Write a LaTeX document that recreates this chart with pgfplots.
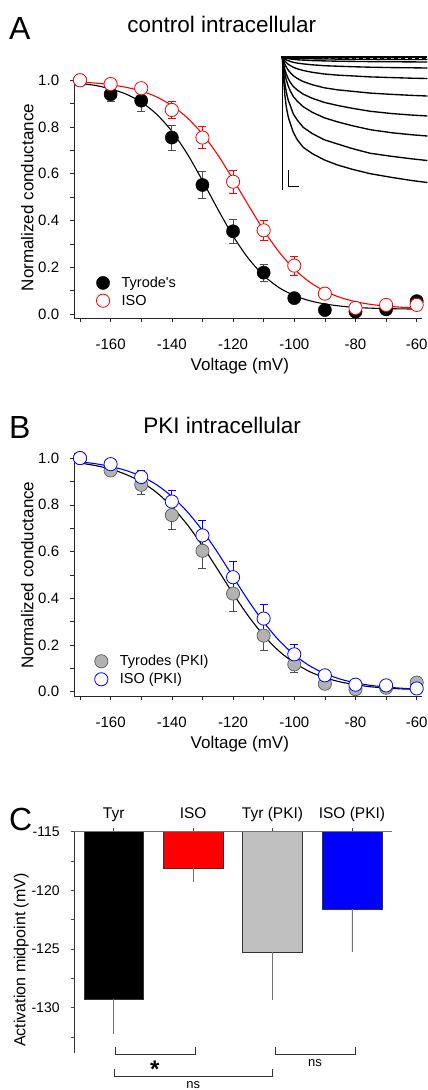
\documentclass[border=0pt]{standalone}
\usepackage{fontspec}
\setmainfont{Liberation Sans}
\usepackage{pgfplots}
\pgfplotsset{compat=1.18}

\definecolor{isored}{RGB}{255,0,0}
\definecolor{isoblue}{RGB}{0,0,255}
\definecolor{pkigray}{RGB}{178,178,178}
\definecolor{bargray}{RGB}{192,192,192}

\pgfplotsset{
  gcurve/.style={
    scale only axis, width=347.7pt,
    xmin=-171.96, xmax=-58.37,
    axis x line*=bottom, axis y line*=left,
    axis line style={black!85, line width=0.8pt},
    tick align=outside, major tick length=4pt, minor tick length=4pt,
    tick style={black!85, line width=0.6pt},
    xtick={-160,-140,-120,-100,-80,-60}, minor xtick={-170,-150,-130,-110,-90,-70},
    ytick={0,0.2,0.4,0.6,0.8,1.0}, minor ytick={0.1,0.3,0.5,0.7,0.9},
    /pgf/number format/assume math mode=true,
    tick label style={font=\fontsize{15}{18}\selectfont, inner sep=0pt},
    xticklabel style={anchor=base, yshift=-27pt},
    yticklabel style={anchor=east, xshift=-10.7pt, /pgf/number format/.cd, fixed, fixed zerofill, precision=1},
    label style={font=\fontsize{17}{20}\selectfont},
    xlabel={Voltage (mV)}, ylabel={Normalized conductance},
    xlabel style={at={(axis description cs:0.477,0)}, anchor=base, yshift=-52pt},
    clip=false,
    legend cell align=left,
    legend image code/.code={\draw[#1,mark repeat=2,mark phase=2] plot coordinates {(-8pt,0pt)(0pt,0pt)(8pt,0pt)};},
  },
  fit/.style={forget plot, smooth, line width=1.1pt, no marks},
  ebar/.style={forget plot, only marks, mark=none,
    error bars/.cd, y dir=both, y explicit,
    error bar style={line width=0.7pt, #1},
    error mark options={rotate=90, mark size=4pt, line width=0.7pt, #1}},
  pts/.style={only marks, mark=*, mark size=6.6pt},
  trace/.style={black, line width=1.35pt},
}

\begin{document}
\begin{tikzpicture}
\path[use as bounding box] (0,0) rectangle (428pt,-1090pt);

% ---------- A: control intracellular
\begin{axis}[gcurve, at={(74pt,-318pt)}, anchor=south west,
  height=242.4pt, ymin=-0.0171, ymax=1.02,
  ylabel style={at={(axis description cs:-0.1171,0.497)}, anchor=base},
  legend style={at={(axis description cs:0.064,0.1786)}, anchor=north west,
    draw=none, fill=none, inner sep=0pt, row sep=2pt,
    font=\fontsize{14.5}{17}\selectfont,
    /tikz/every odd column/.append style={column sep=10pt}}]
\addplot[fit, black] coordinates {(-170,0.986)(-165,0.978)(-160,0.963)(-155,0.941)(-150,0.907)(-145,0.855)(-140,0.782)(-135,0.686)(-130,0.571)(-125,0.449)(-120,0.334)(-115,0.238)(-110,0.165)(-105,0.113)(-100,0.079)(-95,0.057)(-90,0.043)(-85,0.034)(-80,0.028)(-75,0.025)(-70,0.023)(-65,0.022)(-60,0.021)};
\addplot[fit, isored] coordinates {(-170,0.992)(-165,0.988)(-160,0.981)(-155,0.970)(-150,0.954)(-145,0.929)(-140,0.892)(-135,0.840)(-130,0.770)(-125,0.681)(-120,0.576)(-115,0.466)(-110,0.359)(-105,0.266)(-100,0.192)(-95,0.137)(-90,0.098)(-85,0.071)(-80,0.053)(-75,0.041)(-70,0.034)(-65,0.029)(-60,0.026)};
\addplot[ebar=black!70] coordinates {(-160,0.94) +- (0,0.03) (-150,0.913) +- (0,0.045) (-140,0.755) +- (0,0.053) (-130,0.552) +- (0,0.058) (-120,0.354) +- (0,0.05) (-110,0.177) +- (0,0.036)};
\addplot[pts, fill=black, draw=black] coordinates {(-170,1.0)(-160,0.94)(-150,0.913)(-140,0.755)(-130,0.552)(-120,0.354)(-110,0.177)(-100,0.068)(-90,0.017)(-80,0.01)(-70,0.02)(-60,0.055)};
\addlegendentry{Tyrode\textquotesingle s}
\addplot[ebar=isored] coordinates {(-140,0.873) +- (0,0.036) (-130,0.755) +- (0,0.047) (-120,0.566) +- (0,0.05) (-110,0.358) +- (0,0.044) (-100,0.207) +- (0,0.04)};
\addplot[pts, fill=white, draw=isored, line width=0.8pt] coordinates {(-170,1.0)(-160,0.984)(-150,0.966)(-140,0.873)(-130,0.755)(-120,0.566)(-110,0.358)(-100,0.207)(-90,0.087)(-80,0.026)(-70,0.039)(-60,0.039)};
\addlegendentry{ISO}
\end{axis}

% ---------- A inset: current traces
\begin{axis}[at={(282.3pt,-57pt)}, anchor=north west, scale only axis,
  width=145pt, height=133pt, xmin=0, xmax=145, ymin=-133, ymax=0,
  hide axis, clip=false]
\addplot[trace] coordinates {(0,0)(1,-18.8)(2.5,-37.7)(4,-50.2)(6,-60.2)(8,-66.5)(11,-75.3)(15,-82.8)(21,-90.4)(30,-96.6)(42,-102.9)(55,-107.9)(70,-112.3)(88,-116.7)(110,-120.5)(130,-123.6)(145,-125.5)};
\addplot[trace] coordinates {(0,0)(1,-12.4)(2.5,-25.9)(4,-35.2)(6,-43.5)(8,-48.6)(11,-56.9)(15,-63.1)(21,-70.4)(30,-76.6)(42,-82.8)(55,-86.9)(70,-91.6)(88,-96.3)(110,-99.4)(130,-101.9)(145,-103.5)};
\addplot[trace] coordinates {(0,0)(1,-7.9)(2.5,-16.6)(4,-22.9)(6,-29.2)(8,-34.0)(11,-39.5)(15,-44.2)(21,-49.8)(30,-55.3)(42,-60.8)(55,-64.8)(70,-68.7)(88,-72.7)(110,-75.8)(130,-77.8)(145,-79)};
\addplot[trace] coordinates {(0,0)(1,-5.9)(2.5,-12.4)(4,-17.1)(6,-21.8)(8,-25.4)(11,-29.5)(15,-33.0)(21,-37.2)(30,-41.3)(42,-45.4)(55,-48.4)(70,-51.3)(88,-54.3)(110,-56.6)(130,-58.1)(145,-59)};
\addplot[trace] coordinates {(0,0)(1,-3.1)(2.5,-7.0)(4,-10.1)(6,-13.3)(8,-15.6)(11,-18.7)(15,-21.5)(21,-24.6)(30,-27.7)(42,-30.8)(55,-32.8)(70,-34.3)(88,-36.1)(110,-37.4)(130,-38.4)(145,-39)};
\addplot[trace] coordinates {(0,0)(1,-1.7)(2.5,-3.9)(4,-5.6)(6,-7.3)(8,-8.6)(11,-10.3)(15,-11.8)(21,-13.5)(30,-15.3)(42,-17.0)(55,-18.1)(70,-18.9)(88,-19.9)(110,-20.6)(130,-21.2)(145,-21.5)};
\addplot[trace] coordinates {(0,0)(1,-0.9)(2.5,-2.0)(4,-2.9)(6,-3.7)(8,-4.4)(11,-5.3)(15,-6.1)(21,-6.9)(30,-7.8)(42,-8.7)(55,-9.2)(70,-9.7)(88,-10.2)(110,-10.6)(130,-10.8)(145,-11)};
\addplot[trace] coordinates {(0,0)(4,-1.3)(8,-2.0)(15,-2.8)(30,-3.6)(55,-4.2)(88,-4.6)(145,-5)};
\addplot[trace] coordinates {(0,0)(4,-0.7)(8,-1.0)(15,-1.4)(30,-1.8)(55,-2.1)(88,-2.3)(145,-2.5)};
\addplot[black, line width=1.6pt] coordinates {(-1.5,0.3)(145,0.3)};
\addplot[black, line width=1.2pt, dash pattern=on 4pt off 3pt] coordinates {(0,-1)(145,-1)};
\addplot[black, line width=1.1pt] coordinates {(0,0)(0,-133)};
\addplot[black, line width=1.1pt] coordinates {(6,-113)(6,-129.7)(17,-129.7)};
\end{axis}

% ---------- B: PKI intracellular
\begin{axis}[gcurve, at={(74pt,-696pt)}, anchor=south west,
  height=242.6pt, ymin=-0.0184, ymax=1.02,
  ylabel style={at={(axis description cs:-0.1171,0.4986)}, anchor=base},
  legend style={at={(axis description cs:0.059,0.177)}, anchor=north west,
    draw=none, fill=none, inner sep=0pt, row sep=2pt,
    font=\fontsize{14.5}{17}\selectfont,
    /tikz/every odd column/.append style={column sep=10pt}}]
\addplot[fit, black] coordinates {(-170,0.979)(-165,0.968)(-160,0.953)(-155,0.930)(-150,0.898)(-145,0.853)(-140,0.792)(-135,0.716)(-130,0.624)(-125,0.523)(-120,0.420)(-115,0.324)(-110,0.241)(-105,0.174)(-100,0.124)(-95,0.086)(-90,0.060)(-85,0.042)(-80,0.030)(-75,0.021)(-70,0.016)(-65,0.012)(-60,0.010)};
\addplot[fit, isoblue] coordinates {(-170,0.984)(-165,0.976)(-160,0.964)(-155,0.947)(-150,0.922)(-145,0.886)(-140,0.836)(-135,0.771)(-130,0.690)(-125,0.595)(-120,0.492)(-115,0.390)(-110,0.298)(-105,0.220)(-100,0.158)(-95,0.111)(-90,0.078)(-85,0.054)(-80,0.038)(-75,0.027)(-70,0.020)(-65,0.015)(-60,0.011)};
\addplot[ebar=black!70] coordinates {(-150,0.886) +- (0,0.043) (-140,0.756) +- (0,0.063) (-130,0.603) +- (0,0.077) (-120,0.42) +- (0,0.076) (-110,0.24) +- (0,0.061) (-100,0.117) +- (0,0.036)};
\addplot[pts, fill=pkigray, draw=black!65, line width=0.7pt] coordinates {(-170,1.0)(-160,0.947)(-150,0.886)(-140,0.756)(-130,0.603)(-120,0.42)(-110,0.24)(-100,0.117)(-90,0.034)(-80,0.011)(-70,0.017)(-60,0.039)};
\addlegendentry{Tyrodes (PKI)}
\addplot[ebar=isoblue] coordinates {(-150,0.919) +- (0,0.029) (-140,0.814) +- (0,0.05) (-130,0.669) +- (0,0.064) (-120,0.49) +- (0,0.067) (-110,0.313) +- (0,0.061) (-100,0.16) +- (0,0.041)};
\addplot[pts, fill=white, draw=isoblue, line width=0.8pt] coordinates {(-170,1.0)(-160,0.974)(-150,0.919)(-140,0.814)(-130,0.669)(-120,0.49)(-110,0.313)(-100,0.16)(-90,0.07)(-80,0.03)(-70,0.027)(-60,0.014)};
\addlegendentry{ISO (PKI)}
\end{axis}

% ---------- C: activation midpoints
\begin{axis}[at={(74pt,-1053.3pt)}, anchor=south west, scale only axis,
  width=317.7pt, height=221.6pt,
  xmin=-0.5, xmax=3.5, ymin=-133.9, ymax=-115,
  axis x line*=top, axis y line*=left, axis on top,
  x axis line style={black!55, line width=0.8pt},
  y axis line style={black!80, line width=0.8pt},
  tick align=outside, major tick length=3.5pt, minor tick length=3.5pt,
  tick style={black!70, line width=0.6pt},
  xtick={0,1,2,3}, xticklabels={Tyr,ISO,Tyr (PKI),ISO (PKI)},
  ytick={-130,-125,-120,-115}, minor ytick={-132.5,-127.5,-122.5,-117.5},
  /pgf/number format/assume math mode=true,
  tick label style={inner sep=0pt},
  xticklabel style={font=\fontsize{15.5}{18}\selectfont, anchor=base, yshift=10pt},
  yticklabel style={font=\fontsize{14}{17}\selectfont, anchor=east, xshift=-10.7pt},
  ylabel={Activation midpoint (mV)},
  ylabel style={font=\fontsize{16}{19}\selectfont, at={(axis description cs:-0.1527,0.421)}, anchor=base},
  ybar, bar width=59.7pt, bar shift=0pt]
\addplot[fill=black, draw=black!80, line width=0.6pt, error bars/.cd, y dir=minus, y explicit, error mark=none, error bar style={black!55, line width=0.7pt}] coordinates {(0,-129.26) -= (0,3.02)};
\addplot[fill=isored, draw=black!80, line width=0.6pt, error bars/.cd, y dir=minus, y explicit, error mark=none, error bar style={black!55, line width=0.7pt}] coordinates {(1,-118.1) -= (0,1.22)};
\addplot[fill=bargray, draw=black!80, line width=0.6pt, error bars/.cd, y dir=minus, y explicit, error mark=none, error bar style={black!55, line width=0.7pt}] coordinates {(2,-125.3) -= (0,4.07)};
\addplot[fill=isoblue, draw=black!80, line width=0.6pt, error bars/.cd, y dir=minus, y explicit, error mark=none, error bar style={black!55, line width=0.7pt}] coordinates {(3,-121.6) -= (0,3.67)};
\end{axis}

% significance brackets
\draw[black!80, line width=0.8pt] (115pt,-1047pt) -- (115pt,-1054pt) -- (195pt,-1054pt) -- (195pt,-1047pt);
\draw[black!80, line width=0.8pt] (275pt,-1047pt) -- (275pt,-1054pt) -- (355pt,-1054pt) -- (355pt,-1047pt);
\draw[black!80, line width=0.8pt] (114.3pt,-1069.3pt) -- (114.3pt,-1076.7pt) -- (272.3pt,-1076.7pt) -- (272.3pt,-1069.3pt);
\node[anchor=base, inner sep=0pt, font=\bfseries\fontsize{24}{26}\selectfont] at (154.7pt,-1077.3pt) {*};
\node[anchor=base, inner sep=0pt, font=\fontsize{13}{15}\selectfont] at (315pt,-1066.7pt) {ns};
\node[anchor=base, inner sep=0pt, font=\fontsize{13}{15}\selectfont] at (193.3pt,-1088.4pt) {ns};

% panel letters and titles
\node[anchor=base west, inner sep=0pt, font=\fontsize{32}{35}\selectfont] at (9pt,-39.3pt) {A};
\node[anchor=base west, inner sep=0pt, font=\fontsize{32}{35}\selectfont] at (9pt,-438.3pt) {B};
\node[anchor=base west, inner sep=0pt, font=\fontsize{32}{35}\selectfont] at (9pt,-830.5pt) {C};
\node[anchor=base, inner sep=0pt, font=\fontsize{22.5}{26}\selectfont] at (221.7pt,-32.3pt) {control intracellular};
\node[anchor=base, inner sep=0pt, font=\fontsize{22.5}{26}\selectfont] at (222.2pt,-433.3pt) {PKI intracellular};
\end{tikzpicture}
\end{document}
